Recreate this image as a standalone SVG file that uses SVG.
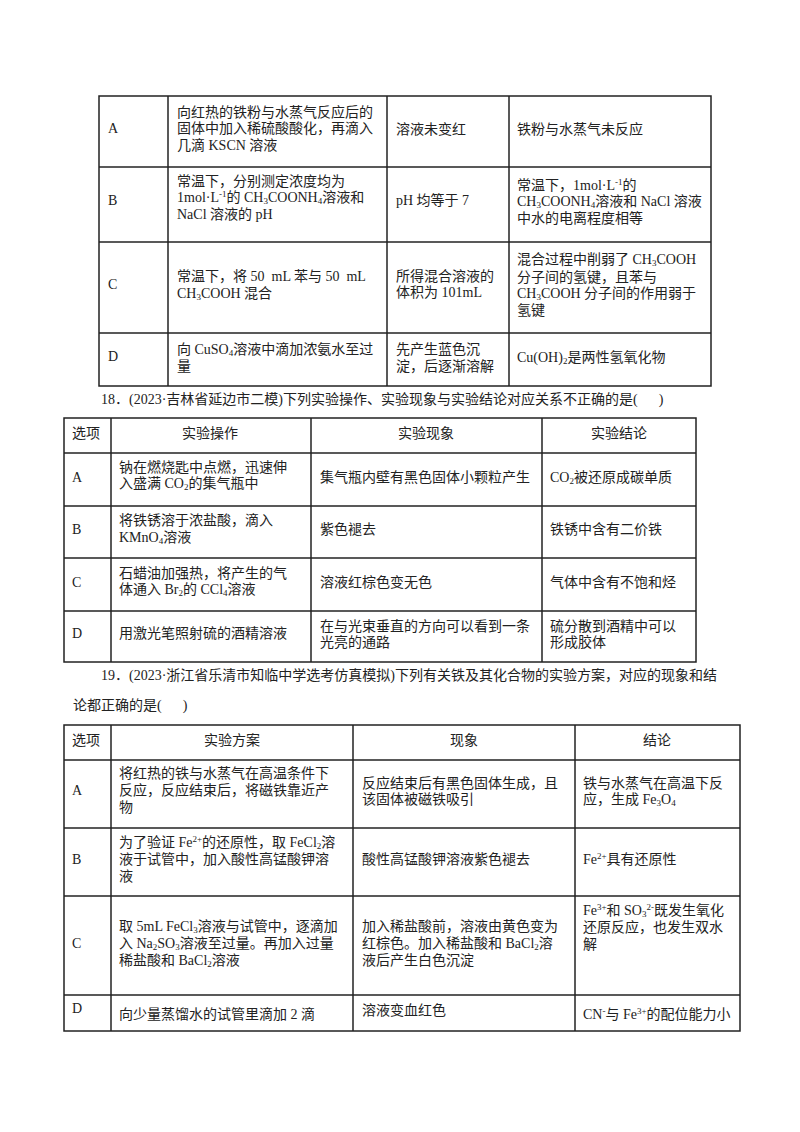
<svg xmlns="http://www.w3.org/2000/svg" width="800" height="1132" viewBox="0 0 800 1132">
<style>
text{font-family:"Liberation Serif","Noto Sans CJK SC",serif;font-size:14px;fill:#222}
.c{text-anchor:middle}
.b{font-size:9px}
line,rect{stroke:#222;stroke-width:1.5;fill:none}
</style>
<rect x="0" y="0" width="800" height="1132" style="fill:#fff;stroke:none"/>
<g id="table1">
<rect x="99" y="96" width="612" height="290"/>
<line x1="168" y1="96" x2="168" y2="386"/><line x1="387" y1="96" x2="387" y2="386"/><line x1="509" y1="96" x2="509" y2="386"/>
<line x1="99" y1="167" x2="711" y2="167"/><line x1="99" y1="242" x2="711" y2="242"/><line x1="99" y1="333" x2="711" y2="333"/>
<text x="108" y="133">A</text>
<text x="177" y="117">向红热的铁粉与水蒸气反应后的</text>
<text x="177" y="133">固体中加入稀硫酸酸化，再滴入</text>
<text x="177" y="150">几滴 KSCN 溶液</text>
<text x="396" y="134">溶液未变红</text>
<text x="517" y="134">铁粉与水蒸气未反应</text>
<text x="108" y="205">B</text>
<text x="177" y="186">常温下，分别测定浓度均为</text>
<text x="177" y="202">1mol·L<tspan baseline-shift="5" class="b">-1</tspan>的 CH<tspan baseline-shift="-2" class="b">3</tspan>COONH<tspan baseline-shift="-2" class="b">4</tspan>溶液和</text>
<text x="177" y="219">NaCl 溶液的 pH</text>
<text x="396" y="205">pH 均等于 7</text>
<text x="517" y="190">常温下，1mol·L<tspan baseline-shift="5" class="b">-1</tspan>的</text>
<text x="517" y="206">CH<tspan baseline-shift="-2" class="b">3</tspan>COONH<tspan baseline-shift="-2" class="b">4</tspan>溶液和 NaCl 溶液</text>
<text x="517" y="223">中水的电离程度相等</text>
<text x="108" y="289">C</text>
<text x="177" y="281">常温下，将 50&#160; mL 苯与 50&#160; mL</text>
<text x="177" y="298">CH<tspan baseline-shift="-2" class="b">3</tspan>COOH 混合</text>
<text x="396" y="281">所得混合溶液的</text>
<text x="396" y="297">体积为 101mL</text>
<text x="517" y="264">混合过程中削弱了 CH<tspan baseline-shift="-2" class="b">3</tspan>COOH</text>
<text x="517" y="282">分子间的氢键，且苯与</text>
<text x="517" y="298">CH<tspan baseline-shift="-2" class="b">3</tspan>COOH 分子间的作用弱于</text>
<text x="517" y="315">氢键</text>
<text x="108" y="361">D</text>
<text x="177" y="354">向 CuSO<tspan baseline-shift="-2" class="b">4</tspan>溶液中滴加浓氨水至过</text>
<text x="177" y="371">量</text>
<text x="396" y="354">先产生蓝色沉</text>
<text x="396" y="371">淀，后逐渐溶解</text>
<text x="517" y="362">Cu(OH)<tspan baseline-shift="-2" class="b">2</tspan>是两性氢氧化物</text>
</g>
<text x="101" y="404">18．(2023·吉林省延边市二模)下列实验操作、实验现象与实验结论对应关系不正确的是(&#160;&#160;&#160;&#160;&#160;&#160;)</text>
<g id="table2">
<rect x="64" y="418" width="632" height="244"/>
<line x1="111" y1="418" x2="111" y2="662"/><line x1="311" y1="418" x2="311" y2="662"/><line x1="542" y1="418" x2="542" y2="662"/>
<line x1="64" y1="453" x2="696" y2="453"/><line x1="64" y1="506" x2="696" y2="506"/><line x1="64" y1="558" x2="696" y2="558"/><line x1="64" y1="611" x2="696" y2="611"/>
<text x="72" y="438">选项</text>
<text x="210" y="438" class="c">实验操作</text>
<text x="426" y="438" class="c">实验现象</text>
<text x="619" y="438" class="c">实验结论</text>
<text x="72" y="482">A</text>
<text x="119" y="472">钠在燃烧匙中点燃，迅速伸</text>
<text x="119" y="488">入盛满 CO<tspan baseline-shift="-2" class="b">2</tspan>的集气瓶中</text>
<text x="320" y="482">集气瓶内壁有黑色固体小颗粒产生</text>
<text x="550" y="482">CO<tspan baseline-shift="-2" class="b">2</tspan>被还原成碳单质</text>
<text x="72" y="534">B</text>
<text x="119" y="525">将铁锈溶于浓盐酸，滴入</text>
<text x="119" y="542">KMnO<tspan baseline-shift="-2" class="b">4</tspan>溶液</text>
<text x="320" y="534">紫色褪去</text>
<text x="550" y="534">铁锈中含有二价铁</text>
<text x="72" y="587">C</text>
<text x="119" y="578">石蜡油加强热，将产生的气</text>
<text x="119" y="594">体通入 Br<tspan baseline-shift="-2" class="b">2</tspan>的 CCl<tspan baseline-shift="-2" class="b">4</tspan>溶液</text>
<text x="320" y="587">溶液红棕色变无色</text>
<text x="550" y="587">气体中含有不饱和烃</text>
<text x="72" y="638">D</text>
<text x="119" y="638">用激光笔照射硫的酒精溶液</text>
<text x="320" y="631">在与光束垂直的方向可以看到一条</text>
<text x="320" y="647">光亮的通路</text>
<text x="550" y="631">硫分散到酒精中可以</text>
<text x="550" y="647">形成胶体</text>
</g>
<text x="101" y="680">19．(2023·浙江省乐清市知临中学选考仿真模拟)下列有关铁及其化合物的实验方案，对应的现象和结</text>
<text x="73" y="710">论都正确的是(&#160;&#160;&#160;&#160;&#160;&#160;)</text>
<g id="table3">
<rect x="64" y="725" width="676" height="306"/>
<line x1="111" y1="725" x2="111" y2="1031"/><line x1="353" y1="725" x2="353" y2="1031"/><line x1="575" y1="725" x2="575" y2="1031"/>
<line x1="64" y1="760" x2="740" y2="760"/><line x1="64" y1="828" x2="740" y2="828"/><line x1="64" y1="896" x2="740" y2="896"/><line x1="64" y1="995" x2="740" y2="995"/>
<text x="72" y="745">选项</text>
<text x="232" y="745" class="c">实验方案</text>
<text x="464" y="745" class="c">现象</text>
<text x="657" y="745" class="c">结论</text>
<text x="72" y="795">A</text>
<text x="119" y="778">将红热的铁与水蒸气在高温条件下</text>
<text x="119" y="795">反应，反应结束后，将磁铁靠近产</text>
<text x="119" y="812">物</text>
<text x="362" y="788">反应结束后有黑色固体生成，且</text>
<text x="362" y="804">该固体被磁铁吸引</text>
<text x="583" y="788">铁与水蒸气在高温下反</text>
<text x="583" y="804">应，生成 Fe<tspan baseline-shift="-2" class="b">3</tspan>O<tspan baseline-shift="-2" class="b">4</tspan></text>
<text x="72" y="864">B</text>
<text x="119" y="847">为了验证 Fe<tspan baseline-shift="5" class="b">2+</tspan>的还原性，取 FeCl<tspan baseline-shift="-2" class="b">2</tspan>溶</text>
<text x="119" y="864">液于试管中，加入酸性高锰酸钾溶</text>
<text x="119" y="881">液</text>
<text x="362" y="864">酸性高锰酸钾溶液紫色褪去</text>
<text x="583" y="864">Fe<tspan baseline-shift="5" class="b">2+</tspan>具有还原性</text>
<text x="72" y="948">C</text>
<text x="119" y="931">取 5mL FeCl<tspan baseline-shift="-2" class="b">3</tspan>溶液与试管中，逐滴加</text>
<text x="119" y="948">入 Na<tspan baseline-shift="-2" class="b">2</tspan>SO<tspan baseline-shift="-2" class="b">3</tspan>溶液至过量。再加入过量</text>
<text x="119" y="965">稀盐酸和 BaCl<tspan baseline-shift="-2" class="b">2</tspan>溶液</text>
<text x="362" y="931">加入稀盐酸前，溶液由黄色变为</text>
<text x="362" y="948">红棕色。加入稀盐酸和 BaCl<tspan baseline-shift="-2" class="b">2</tspan>溶</text>
<text x="362" y="965">液后产生白色沉淀</text>
<text x="583" y="915">Fe<tspan baseline-shift="5" class="b">3+</tspan>和 SO<tspan baseline-shift="-2" class="b">3</tspan><tspan baseline-shift="5" class="b">2-</tspan>既发生氧化</text>
<text x="583" y="932">还原反应，也发生双水</text>
<text x="583" y="949">解</text>
<text x="72" y="1013">D</text>
<text x="119" y="1019">向少量蒸馏水的试管里滴加 2 滴</text>
<text x="362" y="1015">溶液变血红色</text>
<text x="583" y="1019">CN<tspan baseline-shift="5" class="b">-</tspan>与 Fe<tspan baseline-shift="5" class="b">3+</tspan>的配位能力小</text>
</g>
</svg>
